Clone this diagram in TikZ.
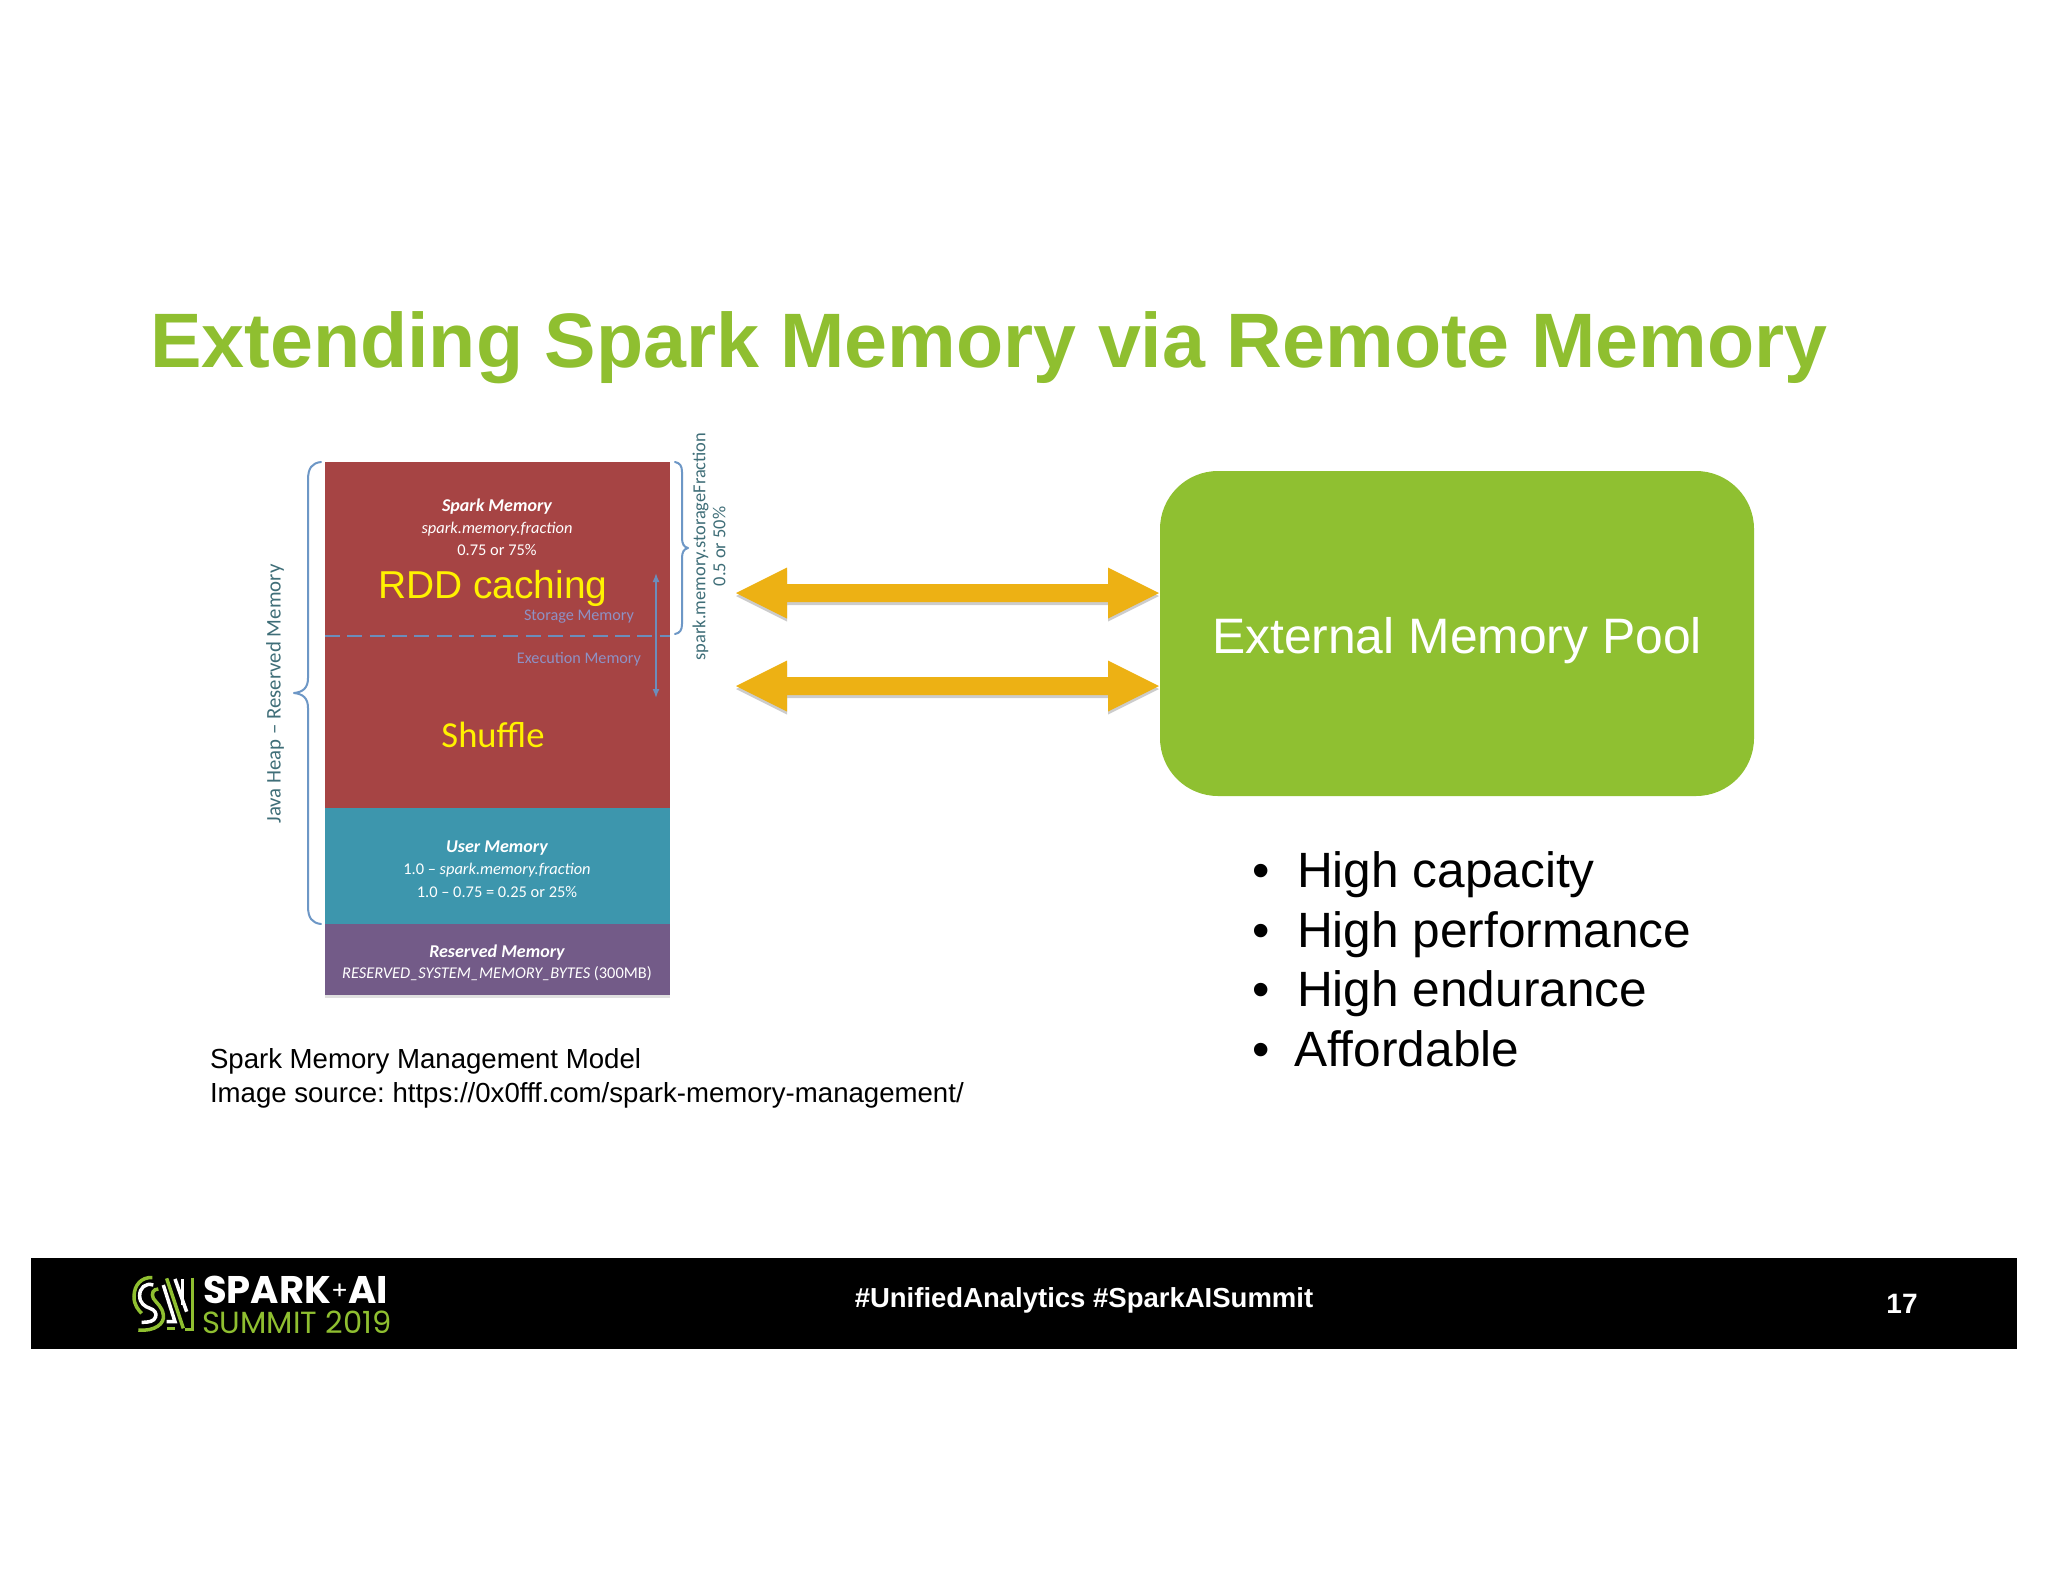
\documentclass[tikz,border=0pt]{standalone}
\usepackage{fontspec}
\setmainfont{Liberation Sans}
\newfontfamily\calfont{Carlito}
\newfontfamily\popfont{Poppins}
\usetikzlibrary{arrows.meta}
\frenchspacing
\definecolor{titlegreen}{HTML}{8FBF30}
\definecolor{boxgreen}{HTML}{8FC031}
\definecolor{stackred}{HTML}{A64444}
\definecolor{stackteal}{HTML}{3D96AD}
\definecolor{stackpurple}{HTML}{735B88}
\definecolor{gold}{HTML}{EDB114}
\definecolor{bracecol}{HTML}{6D97C6}
\definecolor{sidetext}{HTML}{3F6E78}
\definecolor{lilac}{HTML}{8E91C4}
\definecolor{dashcol}{HTML}{6C8DBB}
\tikzset{
 x=1pt,y=-1pt,
 every node/.style={inner sep=0pt,outer sep=0pt},
 stacktext/.style={font=\calfont\fontsize{18}{22}\selectfont,text=white,align=center,anchor=center},
 stacksmall/.style={stacktext,font=\calfont\fontsize{16.4}{20}\selectfont},
 brace/.style={draw=bracecol,line width=2pt,line cap=round,line join=round},
 goldarrow/.style={fill=gold},
 arrowshade/.style={fill=black,opacity=.2},
 bullet/.style={font=\fontsize{49.6}{50}\selectfont,text=black,anchor=base west},
 logogreen/.style={draw=titlegreen,line width=3.5pt},
 logowhite/.style={draw=white,line width=3.5pt},
}
\newcommand{\dblarrow}[2][goldarrow]{%
 \fill[#1] (736,#2) -- (787,#2-25.5) -- (787,#2-9) -- (1108,#2-9) -- (1108,#2-25.5) -- (1159,#2) -- (1108,#2+25.5) -- (1108,#2+9) -- (787,#2+9) -- (787,#2+25.5) -- cycle;}
\begin{document}
\begin{tikzpicture}
\useasboundingbox (0,0) rectangle (2048,1582);
\fill[white] (0,0) rectangle (2048,1582);
% title
\node[anchor=base west,text=titlegreen,font=\bfseries\fontsize{77.2}{78}\selectfont] (title) at (150,367) {Extending Spark Memory via Remote Memory};
% stack
\fill[black,opacity=.12] (325,995) rectangle (670,998);
\node[fill=stackred,minimum width=345pt,minimum height=346pt,anchor=north west] (spark) at (325,462) {};
\node[fill=stackteal,minimum width=345pt,minimum height=116pt,anchor=north west] (user) at (325,808) {};
\node[fill=stackpurple,minimum width=345pt,minimum height=71pt,anchor=north west] (reserved) at (325,924) {};
\node[stacktext] (sm1) at (497,507) {\bfseries\itshape Spark Memory};
\node[stacksmall] (sm2) at (497,529) {\itshape spark.memory.fraction};
\node[stacksmall] (sm3) at (497,550) {0.75 or 75\%};
\node[text=yellow,font=\fontsize{38.9}{39}\selectfont] (rdd) at (493,588) {RDD caching};
\node[font=\calfont\fontsize{16.2}{20}\selectfont,text=lilac] (stor) at (579,617) {Storage Memory};
\node[font=\calfont\fontsize{16.2}{20}\selectfont,text=lilac] (exec) at (579,659) {Execution Memory};
\node[text=yellow,font=\calfont\fontsize{36.6}{37}\selectfont] (shuf) at (493,735) {Shuffle};
\node[stacktext] (um1) at (497,848) {\bfseries\itshape User Memory};
\node[stacksmall] (um2) at (497,870) {1.0 – \itshape spark.memory.fraction};
\node[stacksmall] (um3) at (497,892) {1.0 – 0.75 = 0.25 or 25\%};
\node[stacktext] (rm1) at (497,953) {\bfseries\itshape Reserved Memory};
\node[stacksmall] (rm2) at (497,974) {\itshape RESERVED\_SYSTEM\_MEMORY\_BYTES \upshape (300MB)};
% dashed & arrow
\coordinate (d1) at (325,636); \coordinate (d2) at (670,636);
\draw[dashcol,line width=1.8pt,dash pattern=on 15pt off 7.3pt] (d1) -- (d2);
\coordinate (v1) at (656,573); \coordinate (v2) at (656,698);
\draw[dashcol,line width=1.6pt,{Latex[length=9pt,width=7pt]}-{Latex[length=9pt,width=7pt]}] (v1) -- (v2);
% braces
\draw[brace] (321,462) .. controls (312,463) and (308,468) .. (308,480) -- (308,678) .. controls (308,688) and (303,692) .. (294,693) .. controls (303,694) and (308,698) .. (308,708) -- (308,906) .. controls (308,918) and (312,923) .. (321,924);
\draw[brace] (675,462) .. controls (680,463) and (682,466) .. (682,472) -- (682,538) .. controls (682,544) and (684,547) .. (688,548) .. controls (684,549) and (682,552) .. (682,558) -- (682,624) .. controls (682,630) and (680,633) .. (675,634);
\node[rotate=90,text=sidetext,font=\calfont\fontsize{20.8}{22}\selectfont] (jh) at (275,694) {Java Heap – Reserved Memory};
\node[rotate=90,text=sidetext,font=\calfont\fontsize{18.4}{20}\selectfont,align=center] (sf) at (709,546.5) {spark.memory.storageFraction\\0.5 or 50\%};
% gold arrows
\begin{scope}[yshift=-3pt]\dblarrow[arrowshade]{593}\dblarrow[arrowshade]{686}\end{scope}
\dblarrow{593}
\dblarrow{686}
% box
\node[fill=boxgreen,rounded corners=58pt,minimum width=594pt,minimum height=325pt,anchor=north west,text=white] (pool) at (1160,471) {};
\node[text=white,font=\fontsize{49.8}{50}\selectfont] (pooltext) at (1457,641) {External Memory Pool};
% bullets
\node[bullet] (b1) at (1252,887) {•}; \node[bullet] (t1) at (1297,887) {High capacity};
\node[bullet] (b2) at (1252,947) {•}; \node[bullet] (t2) at (1297,947) {High performance};
\node[bullet] (b3) at (1252,1006) {•}; \node[bullet] (t3) at (1297,1006) {High endurance};
\node[bullet] (b4) at (1252,1066) {•}; \node[bullet] (t4) at (1294,1066) {Affordable};
% caption
\node[anchor=base west,font=\fontsize{27.6}{28}\selectfont] (c1) at (210,1068) {Spark Memory Management Model};
\node[anchor=base west,font=\fontsize{27.6}{28}\selectfont] (c2) at (210,1102) {Image source: https://0x0fff.com/spark-memory-management/};
% footer
\fill[black] (31,1258) rectangle (2017,1349);
\node[text=white,font=\bfseries\fontsize{27.5}{28}\selectfont] (tag) at (1084,1300) {\#UnifiedAnalytics \#SparkAISummit};
\node[text=white,font=\bfseries\fontsize{28}{28}\selectfont] (num) at (1902,1304) {17};
\node[anchor=base west,text=white,font=\popfont\bfseries\fontsize{38.5}{39}\selectfont] (l1) at (203,1303) {SPARK\raisebox{4pt}{\fontsize{25}{25}\selectfont\mdseries +}AI};
\node[anchor=base west,text=titlegreen,font=\popfont\fontsize{30.6}{31}\selectfont] (l2) at (202,1333) {SUMMIT 2019};
% logo mark
\begin{scope}[shift={(125,1265)},x=0.3333pt,y=-0.3333pt]
 \draw[logogreen] (82,38) .. controls (50,35) and (27,60) .. (27,95) .. controls (27,120) and (40,135) .. (50,145);
 \draw[logowhite] (85,60) .. controls (60,52) and (44,70) .. (44,92) .. controls (44,115) and (60,125) .. (75,130) .. controls (90,135) and (95,145) .. (92,155) .. controls (88,170) and (70,172) .. (50,172);
 \draw[logogreen] (40,195) .. controls (90,200) and (120,175) .. (115,150) .. controls (112,125) and (95,115) .. (85,100) .. controls (78,85) and (85,72) .. (100,72);
 \draw[logowhite] (115,60) -- (150,170) -- (125,170);
 \draw[logogreen] (125,40) -- (175,190);
 \draw[logogreen] (150,190) -- (125,190);
 \draw[logowhite] (150,42) -- (185,140);
 \draw[logowhite] (172,42) -- (172,120);
 \draw[logogreen] (203,38) -- (203,193) -- (180,193);
\end{scope}
\end{tikzpicture}
\end{document}
